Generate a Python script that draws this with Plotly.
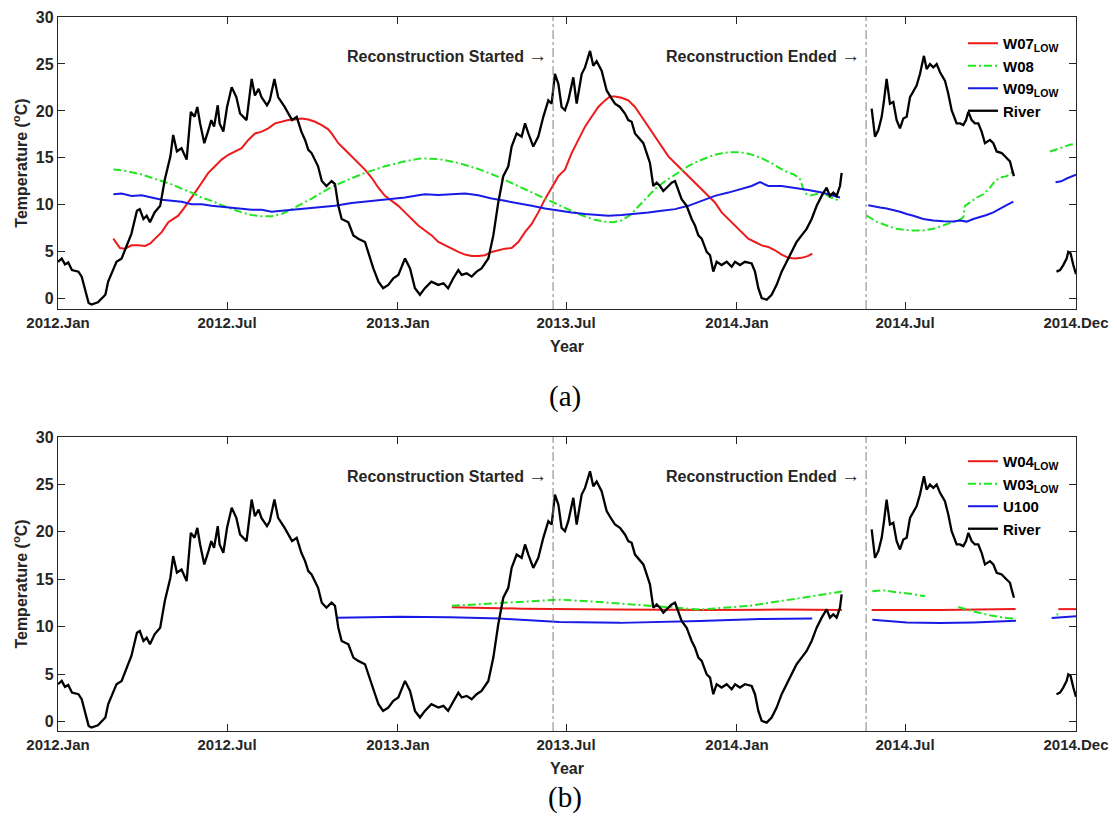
import plotly.graph_objects as go
import pandas as pd

# ---------------- data (day offsets since 2012-01-01, temperature in deg C) ----------------
river_day = [0, 4, 7.5, 11, 15, 22, 25.5, 29, 33, 36, 43, 51, 54, 60, 63, 68.5, 74, 79, 85, 88, 92, 95.5, 99,
             104, 110, 115, 121, 124, 128, 133, 138.5, 143, 147, 150, 153, 157.5, 162, 165, 168, 172, 174, 178,
             182, 187, 192, 196, 203, 208.5, 212, 216, 219, 225, 228, 233, 237, 244, 252, 257, 262, 266, 269.5,
             273, 280, 284, 289, 294.6, 298.2, 301.8, 305.4, 312.6, 318, 323.3, 330.5, 334, 339.5, 345, 350,
             355.6, 361, 366.4, 373.6, 379, 384.3, 389.7, 395, 402, 409.5, 415, 420, 425.6, 431, 434.6, 440,
             445.4, 450.7, 456, 463.3, 468.7, 474, 479.4, 484.8, 488.4, 493.8, 499.2, 502.8, 506.4, 511.7,
             517.1, 522.5, 527.9, 531.5, 535, 538.7, 542.2, 545.8, 549.4, 554.8, 558.4, 563.8, 567.4, 572.8,
             576.3, 579.9, 585.3, 590.7, 596.1, 599.7, 605, 610.4, 614, 617.6, 621.2, 626.6, 630.2, 633.8,
             637.3, 640.9, 644.5, 648.1, 651.7, 655.3, 660.7, 664.3, 667.9, 671.4, 676.8, 682.2, 685.8, 689.4,
             693, 698.4, 702, 705.5, 709.1, 714.5, 719.9, 725.3, 728.9, 734.2, 739.6, 746.8, 750.4, 754,
             757.6, 763, 768.3, 773.7, 779.1, 784.5, 789.9, 795.2, 800.6, 806, 811.4, 816.8, 822.2, 827.5,
             831.1, 834.7, 838.3, 841.9, 843.7,
             None,
             876, 879.6, 883.2, 886.8, 889.3, 892.1, 895.7, 899.3, 902.9, 906.5, 910.1, 913.7, 917.3, 920.9,
             924.4, 928, 932.3, 935.2, 938.8, 942.4, 946, 949.6, 954.9, 958.5, 962.1, 967.5, 971.1, 974.7,
             977.6, 980.1, 983.7, 987.2, 990.8, 994.4, 998, 1003.4, 1007, 1010.6, 1016, 1021.3, 1024.9,
             1026.7, 1029.2,
             None,
             1075, 1078.8, 1082.3, 1085.9, 1087.7, 1090.2, 1093.1, 1096]
river_temp = [3.93, 4.28, 3.65, 3.86, 3.05, 2.88, 2.35, 1.12, -0.46, -0.63, -0.39, 0.42, 1.82, 3.23, 3.93, 4.28,
              5.68, 6.91, 9.37, 9.54, 8.49, 8.84, 8.14, 9.19, 9.89, 12.7, 15.16, 17.44, 15.7, 16.03, 14.81,
              19.89, 19.37, 20.42, 18.67, 16.56, 17.97, 19.02, 18.32, 20.6, 18.67, 17.79, 20.42, 22.53, 21.47,
              19.72, 19.02, 23.4, 21.65, 22.35, 21.47, 20.6, 21.12, 23.4, 21.47, 20.42, 19.02, 19.37, 17.79,
              16.91, 15.86, 15.51, 14.1, 12.53, 12.0, 12.53, 12.2, 9.89, 8.49, 8.14, 6.74, 6.39, 6.04, 4.98,
              3.23, 1.82, 1.12, 1.47, 2.18, 2.53, 4.28, 3.23, 1.12, 0.42, 1.12, 1.82, 1.47, 1.65, 1.12, 2.18,
              3.05, 2.53, 2.7, 2.35, 2.88, 3.23, 4.28, 6.74, 10.25, 13.05, 14.1, 16.2, 17.6, 17.26, 18.67,
              17.6, 16.2, 17.26, 19.37, 21.12, 20.77, 23.93, 22.88, 20.42, 20.07, 21.12, 23.58, 20.77, 23.93,
              24.63, 26.39, 24.8, 25.3, 24.28, 22.18, 21.3, 20.77, 20.42, 19.72, 19.02, 18.84, 17.6, 16.91,
              16.56, 15.51, 14.46, 12.0, 12.35, 12.0, 11.47, 11.82, 12.35, 12.53, 11.65, 10.6, 9.89, 8.49,
              7.79, 6.74, 6.39, 4.98, 4.63, 2.88, 3.93, 3.58, 3.93, 3.4, 3.93, 3.58, 3.93, 3.75, 2.88, 1.12,
              0.07, -0.11, 0.42, 1.47, 2.88, 3.93, 4.98, 6.04, 6.74, 7.44, 8.49, 9.89, 10.95, 11.82, 10.95,
              11.3, 10.95, 12.0, 13.4,
              None,
              20.25, 17.26, 17.96, 19.37, 21.12, 23.4, 20.77, 20.95, 19.02, 18.14, 19.19, 19.37, 21.47, 22.18,
              22.7, 23.93, 25.86, 24.46, 24.98, 24.63, 24.98, 24.11, 23.23, 21.82, 20.07, 18.67, 18.67, 18.49,
              19.02, 19.89, 19.02, 18.67, 18.67, 17.79, 16.56, 16.91, 16.56, 15.68, 15.51, 14.98, 14.63,
              13.93, 13.05,
              None,
              2.88, 3.05, 3.58, 4.28, 4.98, 4.81, 3.58, 2.6]

w07_day = [59.6, 63.2, 66.7, 72.1, 79.3, 86.5, 93.7, 99, 104.4, 111.6, 118.8, 124.2, 129.5, 134.9, 140.3, 147.5,
           154.7, 161.8, 169, 176.2, 183.4, 190.6, 197.7, 204.9, 212.1, 219.3, 226.4, 233.6, 240.8, 248, 255.2,
           262.3, 269.5, 276.7, 283.9, 291, 294.6, 301.8, 309, 316.2, 323.3, 330.5, 337.7, 344.9, 352, 359.2,
           366.4, 373.6, 380.8, 387.9, 395.1, 402.3, 409.5, 416.6, 423.8, 431, 438.2, 445.4, 452.5, 459.7,
           466.9, 474.1, 481.2, 488.4, 495.6, 502.8, 510, 517.1, 524.3, 531.5, 538.7, 545.8, 553, 560.2, 567.4,
           574.5, 581.7, 588.9, 594.3, 599.7, 606.8, 614, 621.2, 628.4, 635.6, 642.7, 649.9, 657.1, 664.3,
           671.4, 678.6, 685.8, 693, 700.2, 707.3, 714.5, 721.7, 728.9, 736, 743.2, 750.4, 757.6, 764.7,
           771.9, 779.1, 786.3, 793.4, 800.6, 807.8, 812.1]
w07_temp = [6.39, 5.86, 5.4, 5.33, 5.68, 5.68, 5.61, 5.86, 6.39, 7.09, 8.14, 8.49, 8.84, 9.54, 10.25, 11.3,
            12.35, 13.4, 14.1, 14.81, 15.33, 15.68, 16.03, 16.91, 17.6, 17.79, 18.14, 18.67, 18.84, 19.02, 19.09,
            19.19, 19.09, 18.84, 18.49, 18.04, 17.6, 16.56, 15.86, 15.16, 14.46, 13.75, 12.88, 11.82, 10.95,
            10.42, 9.89, 9.19, 8.49, 7.79, 7.26, 6.74, 6.04, 5.68, 5.33, 4.98, 4.7, 4.56, 4.56, 4.63, 4.98,
            5.16, 5.33, 5.4, 6.04, 7.09, 7.96, 9.19, 10.6, 11.82, 13.05, 13.75, 15.51, 16.91, 18.32, 19.37,
            20.42, 21.12, 21.54, 21.54, 21.4, 21.12, 20.42, 19.37, 18.32, 17.26, 16.21, 15.16, 14.46, 13.75,
            13.05, 12.35, 11.65, 10.95, 10.25, 9.19, 8.49, 7.79, 7.09, 6.39, 6.04, 5.68, 5.51, 5.16, 4.7, 4.35,
            4.28, 4.35, 4.56, 4.81]

w08_day = [59.6, 68.5, 79.3, 90.1, 100.8, 111.6, 122.4, 133.1, 143.9, 154.7, 165.4, 176.2, 187, 197.7, 208.5,
           219.3, 230, 240.8, 251.6, 262.3, 273.1, 283.9, 294.6, 309, 330.5, 352, 373.6, 391.6, 409.5, 431,
           452.5, 474, 495.6, 517, 538.7, 560, 578, 589, 598, 607, 616, 625, 634, 643, 652, 661, 670, 679, 688,
           697, 706, 715, 724, 732, 741, 750, 759, 768, 777, 786, 793, 799, 802, 805, 810, 819, 826, 833, 842,
           None,
           870.6, 881.4, 892.1, 902.9, 917.3, 931.6, 942.4, 953.1, 963.9, 971.1, 974.7, 976.5, 981.9, 989,
           996.2, 1003.4, 1008.8, 1014.2, 1021.3, 1026.7, 1029.2,
           None,
           1068, 1075.2, 1082.3, 1089.5, 1096]
w08_temp = [13.75, 13.68, 13.47, 13.23, 12.88, 12.53, 12.18, 11.72, 11.3, 10.77, 10.42, 9.96, 9.54, 9.19, 8.91,
            8.77, 8.77, 9.02, 9.54, 10.07, 10.66, 11.3, 11.9, 12.53, 13.4, 14.1, 14.63, 14.95, 14.88, 14.46,
            13.82, 12.98, 12.0, 10.95, 9.96, 9.02, 8.4, 8.2, 8.15, 8.35, 8.9, 9.8, 10.8, 11.7, 12.4, 13.0, 13.6,
            14.15, 14.6, 14.95, 15.3, 15.5, 15.6, 15.6, 15.5, 15.25, 14.9, 14.45, 13.9, 13.45, 13.2, 12.7,
            11.8, 11.2, 11.0, 11.2, 11.1, 10.75, 10.4,
            None,
            8.84, 8.21, 7.79, 7.44, 7.26, 7.26, 7.44, 7.79, 8.14, 8.42, 8.67, 9.89, 10.25, 10.77, 11.12, 11.82,
            12.53, 12.88, 13.05, 13.4, 13.58,
            None,
            15.68, 15.93, 16.21, 16.39, 16.49]

w09_day = [59.6, 68.5, 79.3, 90.1, 100.8, 111.6, 122.4, 133.1, 143.9, 154.7, 165.4, 176.2, 187, 197.7, 208.5,
           219.3, 230, 240.8, 251.6, 262.3, 273.1, 283.9, 298.2, 316.2, 330.5, 344.9, 359.2, 373.6, 387.9,
           395.1, 409.5, 423.8, 438.2, 452.5, 466.9, 481.2, 495.6, 510, 524.3, 538.7, 553, 567.4, 581.7,
           592.5, 606.8, 621.2, 635.6, 649.9, 664.3, 678.6, 693, 707.3, 721.7, 736, 746.8, 755.8, 764.7,
           779.1, 793.4, 807.8, 822.2, 833, 841.9,
           None,
           872.4, 877.8, 885, 892.1, 899.3, 906.5, 913.7, 920.9, 931.6, 942.4, 953.1, 963.9, 971.1, 978.3,
           985.4, 992.6, 999.8, 1007, 1014.2, 1021.3, 1028.5,
           None,
           1074, 1080, 1086, 1091, 1096]
w09_temp = [11.12, 11.19, 10.95, 11.02, 10.77, 10.53, 10.42, 10.32, 10.07, 10.07, 9.89, 9.79, 9.65, 9.54, 9.47,
            9.47, 9.26, 9.37, 9.47, 9.61, 9.72, 9.79, 9.89, 10.18, 10.32, 10.53, 10.67, 10.77, 11.02, 11.12,
            11.05, 11.12, 11.19, 11.02, 10.67, 10.42, 10.18, 9.89, 9.61, 9.37, 9.19, 9.02, 8.91, 8.84, 8.91,
            9.02, 9.19, 9.37, 9.54, 9.89, 10.42, 10.95, 11.3, 11.72, 12.0, 12.42, 12.0, 12.0, 11.82, 11.58,
            11.3, 11.02, 10.77,
            None,
            9.96, 9.89, 9.72, 9.61, 9.47, 9.26, 9.02, 8.84, 8.49, 8.32, 8.25, 8.21, 8.32, 8.21, 8.49, 8.67,
            8.91, 9.19, 9.54, 9.96, 10.35,
            None,
            12.4, 12.5, 12.8, 13.0, 13.2]

w04_day = [424, 500, 600, 700, 780, 844, None, 876, 950, 1031, None, 1077, 1096]
w04_temp = [12.05, 11.9, 11.8, 11.75, 11.8, 11.75, None, 11.75, 11.75, 11.85, None, 11.85, 11.85]

w03_day = [424, 476, 540, 583, 637, 691, 745, 799, 844, None, 876.7, 888.6, 902.9, 917.3, 933.4, None,
           969.3, 985.4, 1003.4, 1021.3, 1031.4, None, 1075, 1077]
w03_temp = [12.2, 12.5, 12.85, 12.6, 12.2, 11.8, 12.2, 13.0, 13.7, None, 13.73, 13.83, 13.62, 13.48, 13.2, None,
            12.08, 11.62, 11.2, 10.91, 10.84, None, 11.27, 11.3]

u100_day = [301, 368, 422, 476, 540, 605, 691, 756, 812, None, 876.7, 913.7, 949.6, 985.4, 1031.4, None,
            1069.8, 1096]
u100_temp = [10.95, 11.05, 11.0, 10.85, 10.5, 10.4, 10.6, 10.8, 10.85, None, 10.73, 10.45, 10.38, 10.45, 10.63,
             None, 10.91, 11.09]

recon_started = "2013-06-17"
recon_ended = "2014-05-20"

tick_dates = ["2012-01-01", "2012-07-01", "2013-01-01", "2013-07-01", "2014-01-01", "2014-07-01", "2015-01-01"]
tick_labels = ["2012.Jan", "2012.Jul", "2013.Jan", "2013.Jul", "2014.Jan", "2014.Jul", "2014.Dec"]
y_ticks = [0, 5, 10, 15, 20, 25, 30]

# ---------------- helpers ----------------
BASE = pd.Timestamp("2012-01-01")


def to_dates(days):
    return [None if d is None else (BASE + pd.Timedelta(days=d)).strftime("%Y-%m-%d %H:%M") for d in days]


RED = "#ee1a1a"
GREEN = "#22e622"
BLUE = "#1a1ae6"
BLACK = "#000000"
DASHDOT = "8px,3px,2px,3px"
FONT = "Liberation Sans"
AX = "#262626"

fig = go.Figure()


def add(days, temps, name, color, dash, xa, ya, legend, width=2):
    fig.add_trace(go.Scatter(
        x=to_dates(days), y=temps, mode="lines", name=name,
        line=dict(color=color, width=width, dash=dash), xaxis=xa, yaxis=ya,
        legend=legend, connectgaps=False, hoverinfo="skip"))


# panel (a)
add(w07_day, w07_temp, "W07<sub>LOW</sub>", RED, "solid", "x", "y", "legend")
add(w08_day, w08_temp, "W08", GREEN, DASHDOT, "x", "y", "legend")
add(w09_day, w09_temp, "W09<sub>LOW</sub>", BLUE, "solid", "x", "y", "legend")
add(river_day, river_temp, "River", BLACK, "solid", "x", "y", "legend", 2.3)
# panel (b)
add(w04_day, w04_temp, "W04<sub>LOW</sub>", RED, "solid", "x2", "y2", "legend2")
add(w03_day, w03_temp, "W03<sub>LOW</sub>", GREEN, DASHDOT, "x2", "y2", "legend2")
add(u100_day, u100_temp, "U100", BLUE, "solid", "x2", "y2", "legend2")
add(river_day, river_temp, "River", BLACK, "solid", "x2", "y2", "legend2", 2.3)

xtickfont = dict(family=FONT, size=15, color=AX, weight="bold")
ytickfont = dict(family=FONT, size=16, color=AX, weight="bold")
titlefont = dict(family=FONT, size=16, color=AX, weight="bold")

xcommon = dict(type="date", range=["2012-01-01", "2015-01-01"], tickvals=tick_dates, ticktext=tick_labels,
               showline=True, linecolor=AX, linewidth=1.3, mirror="ticks", ticks="inside", ticklen=7,
               tickcolor=AX, tickwidth=1.3, tickfont=xtickfont, showgrid=False, zeroline=False,
               automargin=False, ticklabeloverflow="allow",
               title=dict(text="Year", font=titlefont, standoff=10))
ycommon = dict(tickvals=y_ticks, showline=True, linecolor=AX, linewidth=1.3, mirror="ticks", ticks="inside",
               ticklen=7, tickcolor=AX, tickwidth=1.3, tickfont=ytickfont, showgrid=False, zeroline=False,
               automargin=False, ticklabeloverflow="allow",
               title=dict(text="Temperature (<sup>o</sup>C)", font=titlefont, standoff=4))

legend_common = dict(xanchor="left", yanchor="top", bgcolor="rgba(0,0,0,0)", borderwidth=0,
                     font=dict(family=FONT, size=15, color="#000000", weight="bold"), itemwidth=30)

# page body adds an 8 px margin; keep the page within the window so no scrollbars appear
fig.update_layout(
    width=1101, height=818,
    margin=dict(l=50, r=33, t=9, b=95, autoexpand=False),
    paper_bgcolor="white", plot_bgcolor="white",
    xaxis=dict(domain=[0, 1], anchor="y", **xcommon),
    yaxis=dict(domain=[0.591, 1], anchor="x", range=[-1.1, 30], **ycommon),
    xaxis2=dict(domain=[0, 1], anchor="y2", **xcommon),
    yaxis2=dict(domain=[0, 0.4118], anchor="x2", range=[-1, 30], **ycommon),
    legend=dict(x=0.889, y=0.986, **legend_common),
    legend2=dict(x=0.889, y=0.4006, **legend_common),
    showlegend=True,
)

for xa, ya in (("x", "y"), ("x2", "y2")):
    for d in (recon_started, recon_ended):
        fig.add_shape(type="line", xref=xa, yref=f"{ya} domain", x0=d, x1=d, y0=0, y1=1,
                      line=dict(color="#808080", width=1, dash="dashdot"))
    fig.add_annotation(x=recon_started, y=25.9, xref=xa, yref=ya,
                       text="Reconstruction Started <span style='font-size:19px'>\u2192</span>",
                       showarrow=False, xanchor="right", xshift=-4, font=titlefont)
    fig.add_annotation(x=recon_ended, y=25.9, xref=xa, yref=ya,
                       text="Reconstruction Ended <span style='font-size:19px'>\u2192</span>",
                       showarrow=False, xanchor="right", xshift=-4, font=titlefont)

fig.add_annotation(x=0.498, y=0.4678, xref="paper", yref="paper", text="(a)", showarrow=False,
                   font=dict(family="Liberation Serif", size=29, color="#000000"))
fig.add_annotation(x=0.498, y=-0.119, xref="paper", yref="paper", text="(b)", showarrow=False,
                   font=dict(family="Liberation Serif", size=29, color="#000000"))

fig.write_html("out.html")
